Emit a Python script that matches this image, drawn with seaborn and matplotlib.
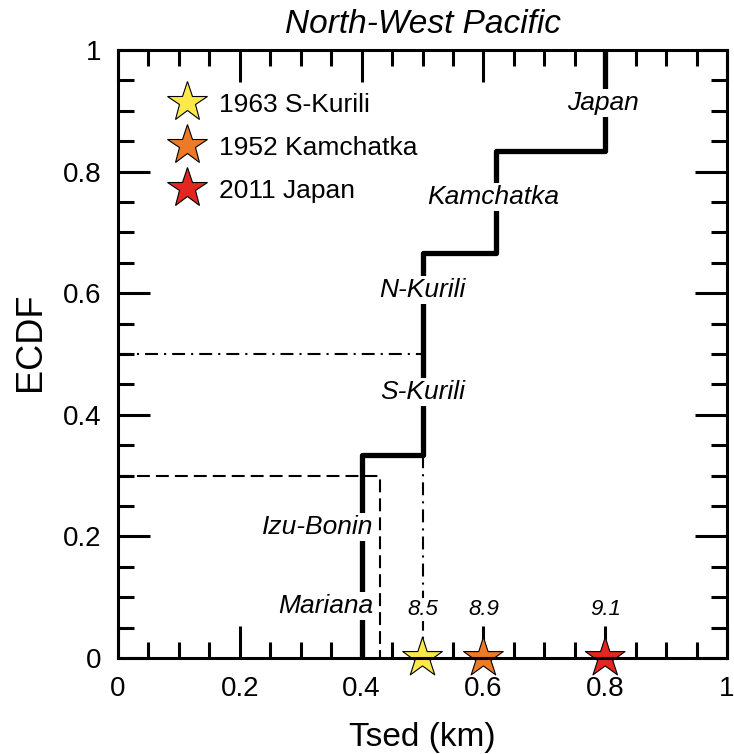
import matplotlib
matplotlib.use("Agg")
import matplotlib.pyplot as plt
import seaborn as sns
import numpy as np
import pandas as pd

# Subduction zones and their sediment thickness (km)
regions = ["Mariana", "Izu-Bonin", "S-Kurili", "N-Kurili", "Kamchatka", "Japan"]
tsed = [0.40, 0.40, 0.50, 0.50, 0.62, 0.80]

# Where the region names sit on the ECDF step line
label_x = [0.42, 0.42, 0.50, 0.50, 0.616, 0.797]
label_y = [0.085, 0.215, 0.4375, 0.605, 0.758, 0.913]

# Large earthquakes
eq_labels = ["1963 S-Kurili", "1952 Kamchatka", "2011 Japan"]
eq_tsed = [0.50, 0.60, 0.80]
eq_mag = ["8.5", "8.9", "9.1"]
eq_colors = ["#fde84a", "#ec7a26", "#e3261f"]

# reference levels (ECDF 0.3 and median)
ref30 = (0.43, 0.30)
ref50 = (0.50, 0.50)

sns.set_style("ticks", {"axes.edgecolor": "black", "text.color": "black",
                        "axes.labelcolor": "black", "xtick.color": "black",
                        "ytick.color": "black"})
plt.rcParams["font.family"] = ["Liberation Sans", "DejaVu Sans"]

df = pd.DataFrame({"region": regions, "tsed": tsed})
eq = pd.DataFrame({"event": eq_labels, "tsed": eq_tsed, "ecdf": 0.0})

fig = plt.figure(figsize=(7.34, 7.54), dpi=100)
ax = fig.add_axes([0.1608, 0.1273, 0.8297, 0.8064])

# reference lines
ax.plot([0, ref30[0], ref30[0]], [ref30[1], ref30[1], 0], color="black",
        lw=1.5, dashes=(6.2, 2.9), zorder=1)
ax.plot([0, ref50[0], ref50[0]], [ref50[1], ref50[1], 0], color="black",
        lw=1.5, dashes=(6.2, 2.9, 1, 2.9), zorder=1)

# ECDF of sediment thickness
sns.ecdfplot(data=df, x="tsed", ax=ax, color="black", lw=3.8, zorder=2)

for name, x, y in zip(regions, label_x, label_y):
    ha = "right" if x < 0.45 else "center"
    ax.text(x, y, name, ha=ha, va="center", fontsize=19, style="italic",
            bbox=dict(facecolor="white", edgecolor="none", pad=1.5), zorder=3)

# earthquakes
sns.scatterplot(data=eq, x="tsed", y="ecdf", hue="event", palette=eq_colors,
                marker="*", s=900, edgecolor="black", linewidth=0.8,
                ax=ax, clip_on=False, zorder=5)
for x, m in zip(eq_tsed, eq_mag):
    ax.text(x, 0.08, m, ha="center", va="center", fontsize=16,
            style="italic", bbox=dict(facecolor="white", edgecolor="none", pad=1),
            zorder=4)

leg = ax.legend(loc="upper left", bbox_to_anchor=(0.092, 0.93), frameon=False,
                fontsize=19, handlelength=1.0, handletextpad=0.7,
                labelspacing=0.72, borderaxespad=0, borderpad=0)
for h in leg.legend_handles:
    h.set_markersize(30)
    h.set_markeredgecolor("black")
    h.set_markeredgewidth(0.8)

ax.set_xlim(0, 1)
ax.set_ylim(0, 1)
ax.set_xticks(np.arange(0, 1.01, 0.2))
ax.set_yticks(np.arange(0, 1.01, 0.2))
ax.set_xticklabels(["0", "0.2", "0.4", "0.6", "0.8", "1"])
ax.set_yticklabels(["0", "0.2", "0.4", "0.6", "0.8", "1"])
ax.set_xticks(np.arange(0, 1.001, 0.05), minor=True)
ax.set_yticks(np.arange(0, 1.001, 0.05), minor=True)
ax.tick_params(which="both", direction="in", top=True, right=True,
               bottom=True, left=True, width=2.2, labelsize=20,
               colors="black")
ax.tick_params(axis="x", which="major", pad=13)
ax.tick_params(axis="y", which="major", pad=12)
ax.tick_params(which="major", length=23)
ax.tick_params(which="minor", length=11.5)
for s in ax.spines.values():
    s.set_linewidth(2.2)
    s.set_color("black")
    s.set_zorder(6)

ax.set_xlabel("Tsed (km)", fontsize=24, labelpad=14)
ax.set_ylabel("ECDF", fontsize=26)
ax.yaxis.set_label_coords(-0.115, 0.52)
ax.set_title("North-West Pacific", fontsize=24, style="italic", pad=12)

fig.savefig("out.png", dpi=100)
plt.close(fig)
